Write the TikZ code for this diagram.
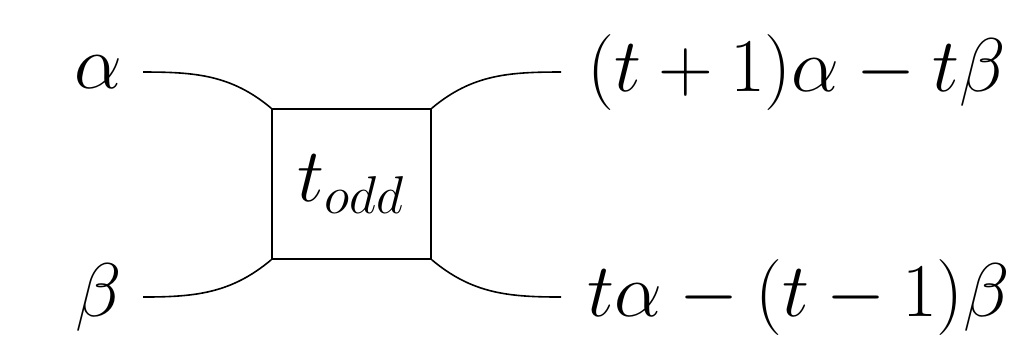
\documentclass[tikz,border=0pt]{standalone}
\usepackage{fix-cm}
\usepackage{tikz}
\usetikzlibrary{positioning}

\begin{document}
\begin{tikzpicture}[x=0.25pt,y=-0.25pt,
    every node/.style={font=\fontsize{19}{23}\selectfont},
    lbl/.style={inner sep=5pt},
    gate/.style={draw,minimum width=39.75pt,minimum height=37.5pt,inner sep=0pt},
    wire/.style={line width=0.4pt}]
    \useasboundingbox (0,0) rectangle (1014,347);
    \node[gate] (todd) at (351.5,184) {$t_{odd}$};
    \node[lbl,anchor=east] (alpha) at (143,72) {$\alpha$};
    \node[lbl,anchor=east] (beta) at (143,297) {$\beta$};
    \node[lbl,inner xsep=6.5pt,anchor=west] (outa) at (561,72) {$(t+1)\alpha-t\beta$};
    \node[lbl,inner xsep=6.5pt,anchor=west] (outb) at (561,297) {$t\alpha-(t-1)\beta$};
    % wires into and out of the box
    \draw[wire] (alpha.east) to[out=0,in=140] (todd.north west);
    \draw[wire] (beta.east) to[out=0,in=-140] (todd.south west);
    \draw[wire] (todd.north east) to[out=40,in=180] (outa.west);
    \draw[wire] (todd.south east) to[out=-40,in=180] (outb.west);
\end{tikzpicture}
\end{document}
